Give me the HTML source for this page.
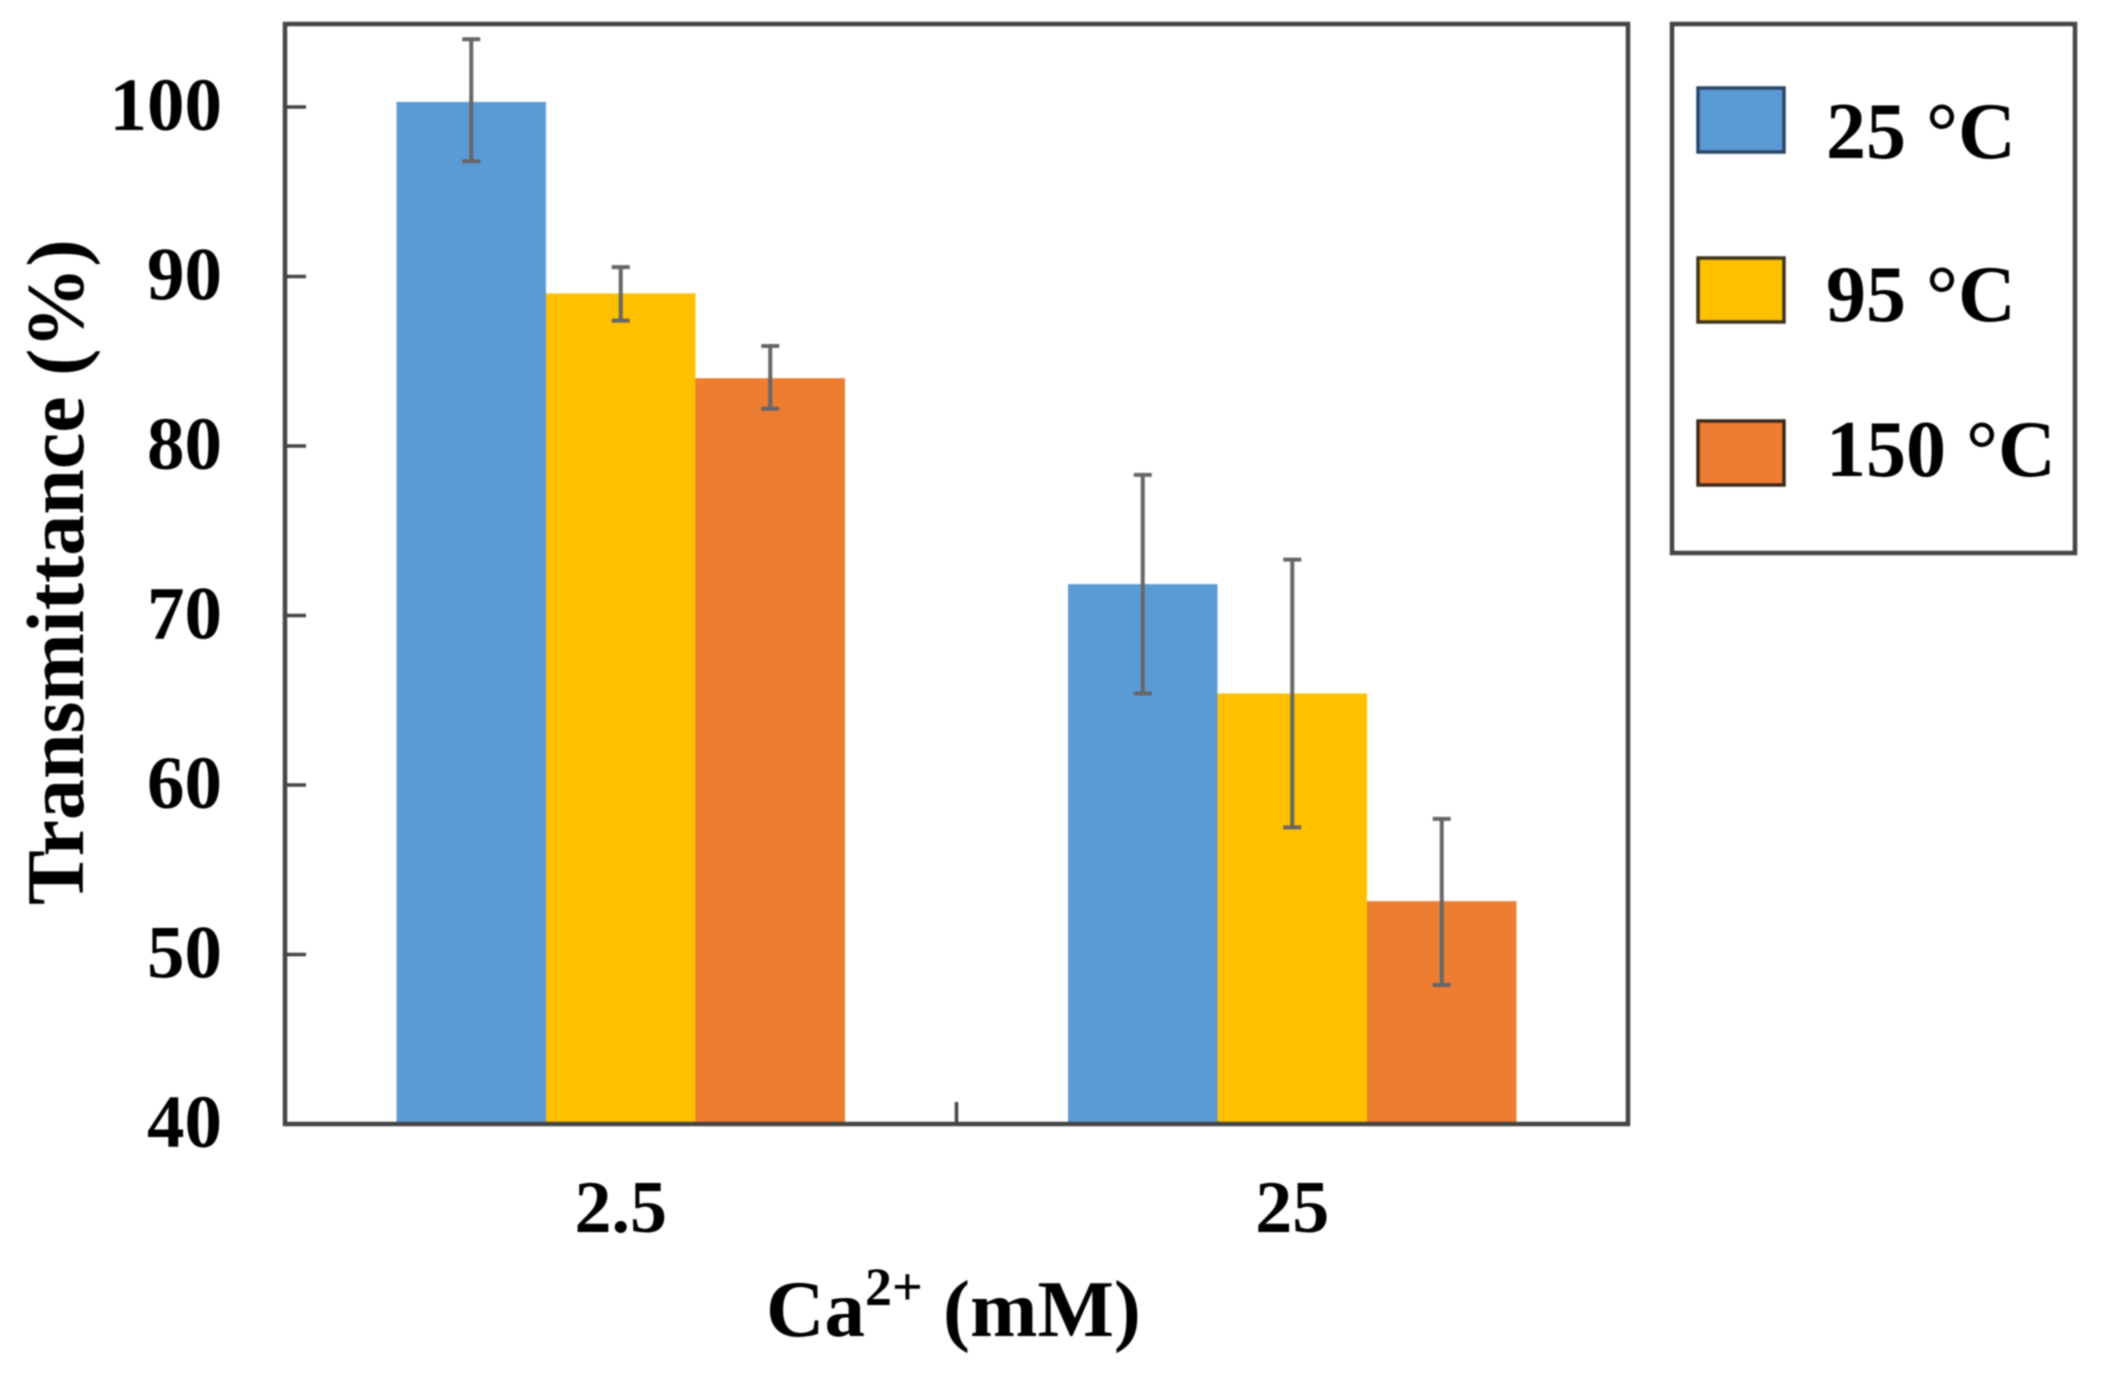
<!DOCTYPE html>
<html lang="en">
<head>
<meta charset="utf-8">
<title>Transmittance vs Ca2+</title>
<style>
html,body{margin:0;padding:0;background:#fff;}
svg{display:block;filter:blur(0.8px);}
text{font-family:"Liberation Serif",serif;font-weight:bold;fill:#000;}
</style>
</head>
<body>
<svg id="chart" xmlns="http://www.w3.org/2000/svg" width="2103" height="1373" viewBox="0 0 2103 1373">
  <g id="marks"></g>
  <rect x="285" y="24" width="1343" height="1100" fill="none" stroke="#444" stroke-width="4.5"/>
  <g id="axes"></g>
  <text transform="translate(83,905) rotate(-90)" font-size="82">Transmittance (%)</text>
  <text x="766" y="1336" font-size="81">Ca<tspan dy="-31" font-size="54">2+</tspan><tspan dy="31"> (mM)</tspan></text>
  <g>
    <rect x="1672" y="24" width="403" height="529" fill="#fff" stroke="#444" stroke-width="4.5"/>
    <rect x="1698" y="88" width="86" height="64" fill="#5B9BD5" stroke="#2a4468" stroke-width="3.5"/>
    <text x="1826" y="158" font-size="80">25 °C</text>
    <rect x="1698" y="258" width="86" height="64" fill="#FFC000" stroke="#3d3420" stroke-width="3.5"/>
    <text x="1826" y="321" font-size="80">95 °C</text>
    <rect x="1698" y="421" width="86" height="64" fill="#ED7D31" stroke="#3a2a1c" stroke-width="3.5"/>
    <text x="1826" y="476" font-size="80">150 °C</text>
  </g>
</svg>
<script>
var categories = ["2.5", "25"];
var seriesNames = ["25 °C", "95 °C", "150 °C"];
var values25C = [100.3, 71.85];
var values95C = [89.0, 65.4];
var values150C = [84.0, 53.15];
var upper25C = [104.0, 78.3];
var lower25C = [96.8, 65.4];
var upper95C = [90.55, 73.3];
var lower95C = [87.4, 57.5];
var upper150C = [85.9, 58.0];
var lower150C = [82.2, 48.2];
var yTickLabels = [40, 50, 60, 70, 80, 90, 100];

var NS = "http://www.w3.org/2000/svg";
var plotLeft = 285, plotRight = 1628, plotBottom = 1124, pxPerUnit = 16.95, yBase = 40;
var barWidth = 149.5;
var seriesColors = ["#5B9BD5", "#FFC000", "#ED7D31"];
var seriesValues = [values25C, values95C, values150C];
var seriesUpper = [upper25C, upper95C, upper150C];
var seriesLower = [lower25C, lower95C, lower150C];

function yScale(v) { return plotBottom - (v - yBase) * pxPerUnit; }
function bandCenter(i) { return plotLeft + (plotRight - plotLeft) * (i + 0.5) / categories.length; }
function barLeft(i, s) { return bandCenter(i) + (s - seriesValues.length / 2) * barWidth; }
function make(tag, attrs, parent) {
  var el = document.createElementNS(NS, tag);
  for (var k in attrs) { el.setAttribute(k, attrs[k]); }
  parent.appendChild(el);
  return el;
}

var marks = document.getElementById("marks");
var axes = document.getElementById("axes");

seriesValues.forEach(function (vals, s) {
  vals.forEach(function (v, i) {
    var bar = make("rect", { x: barLeft(i, s), y: yScale(v), width: barWidth, height: plotBottom - yScale(v), fill: seriesColors[s] }, marks);
    
    
  });
});

seriesValues.forEach(function (vals, s) {
  vals.forEach(function (v, i) {
    var cx = barLeft(i, s) + barWidth / 2;
    var top = yScale(seriesUpper[s][i]);
    var bottom = yScale(seriesLower[s][i]);
    var cap = 9;
    var err = make("path", {
      d: "M" + cx + " " + top + "V" + bottom + "M" + (cx - cap) + " " + top + "H" + (cx + cap) + "M" + (cx - cap) + " " + bottom + "H" + (cx + cap),
      fill: "none", stroke: "#666", "stroke-width": 4
    }, marks);
    
    
  });
});

yTickLabels.forEach(function (t) {
  var y = yScale(t);
  if (t !== yBase) {
    var tick = make("line", { x1: plotLeft, x2: plotLeft + 21, y1: y, y2: y, stroke: "#444", "stroke-width": 3.5 }, axes);
    
    
  }
  var label = make("text", { x: 222, y: y + 23, "text-anchor": "end", "font-size": 75 }, axes);
  label.textContent = t;
  
  
});

for (var b = 1; b < categories.length; b++) {
  var bx = plotLeft + (plotRight - plotLeft) * b / categories.length;
  var xTick = make("line", { x1: bx, x2: bx, y1: plotBottom, y2: plotBottom - 22, stroke: "#444", "stroke-width": 3.5 }, axes);
  
  
}

categories.forEach(function (c, i) {
  var label = make("text", { x: bandCenter(i), y: 1232, "text-anchor": "middle", "font-size": 74 }, axes);
  label.textContent = c;
  
  
});
</script>
</body>
</html>
